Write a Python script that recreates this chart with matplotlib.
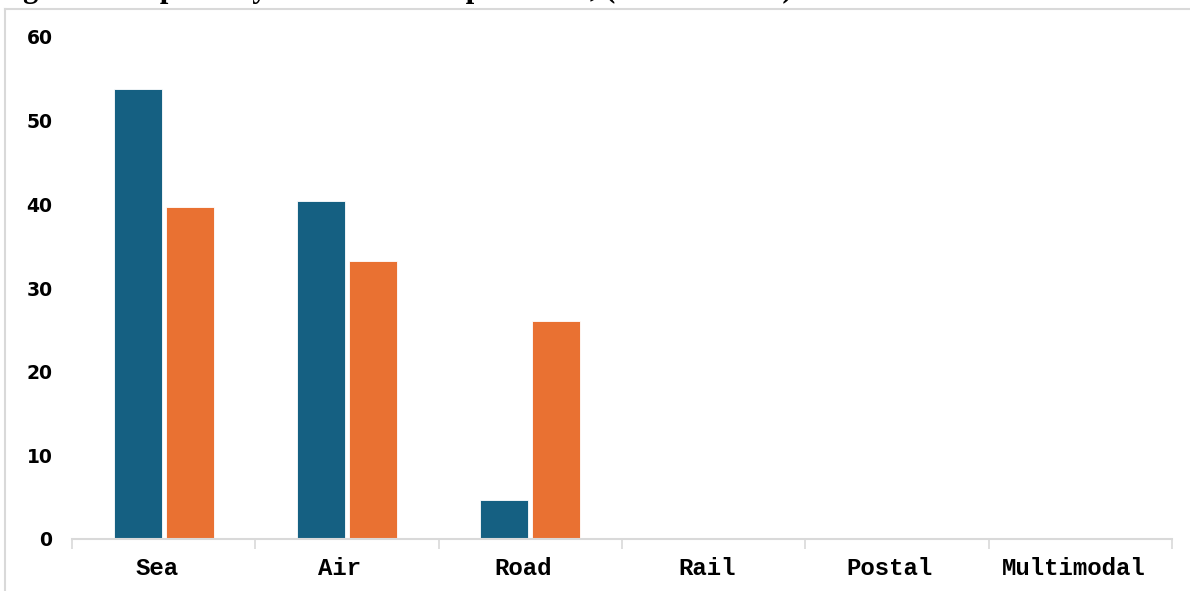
import matplotlib
matplotlib.use("Agg")
import numpy as np
import matplotlib.pyplot as plt
import matplotlib.transforms as mtransforms
from matplotlib.lines import Line2D

# data
modes = ["Sea", "Air", "Road", "Rail", "Postal", "Multimodal"]
series_1 = [53.8, 40.4, 4.7, 0, 0, 0]
series_2 = [39.7, 33.2, 26.0, 0, 0, 0]
y_ticks = [0, 10, 20, 30, 40, 50, 60]

BLUE = "#156082"
ORANGE = "#E97132"
GRID = "#d9d9d9"

fig = plt.figure(figsize=(11.9, 5.91), dpi=100)

# page frame (chart is a crop of a larger page)
fig.add_artist(Line2D([5 / 1190, 5 / 1190], [0, 1 - 9 / 591],
                      transform=fig.transFigure, color=GRID, lw=1.5))
fig.add_artist(Line2D([5 / 1190, 1], [1 - 9 / 591, 1 - 9 / 591],
                      transform=fig.transFigure, color=GRID, lw=1.5))

# title is cut off at the top edge of the picture, only the descenders show
fig.text(-0.003, 1 + 2.5 / 591, "Figure 4: Imports by Mode of Transport 2024, (EUR Million)",
         family="Liberation Serif", fontweight="bold", fontsize=22,
         ha="left", va="baseline")

ax = fig.add_axes([72 / 1190, 1 - 539 / 591, 1100 / 1190, 502 / 591])

x = np.arange(len(modes))
w = 0.262
ax.bar(x - 0.142, series_1, width=w, color=BLUE, edgecolor="white", linewidth=0.6)
ax.bar(x + 0.142, series_2, width=w, color=ORANGE, edgecolor="white", linewidth=0.6)

ax.set_xlim(-0.5, len(modes) - 0.5)
ax.set_ylim(0, 60)
ax.set_yticks(y_ticks)
ax.set_yticklabels([str(t) for t in y_ticks], family="DejaVu Sans",
                   fontweight="bold", fontsize=13.5)
ax.tick_params(axis="y", length=0, pad=14)

ax.set_xticks(x)
ax.set_xticklabels(modes, family="Liberation Mono", fontweight="bold", fontsize=17.3)
ax.set_xticks(np.arange(-0.5, len(modes)), minor=True)
ax.tick_params(axis="x", which="major", length=0, pad=13)
ax.tick_params(axis="x", which="minor", length=7, color=GRID, width=1.2)

# labels sit slightly left of the category centre in the reference
shift = mtransforms.ScaledTranslation(-7 / 100, 0, fig.dpi_scale_trans)
for lab in ax.get_xticklabels():
    lab.set_transform(lab.get_transform() + shift)

for side in ["left", "top", "right"]:
    ax.spines[side].set_visible(False)
ax.spines["bottom"].set_color(GRID)
ax.spines["bottom"].set_linewidth(1.5)

fig.savefig("out.png", dpi=100)
